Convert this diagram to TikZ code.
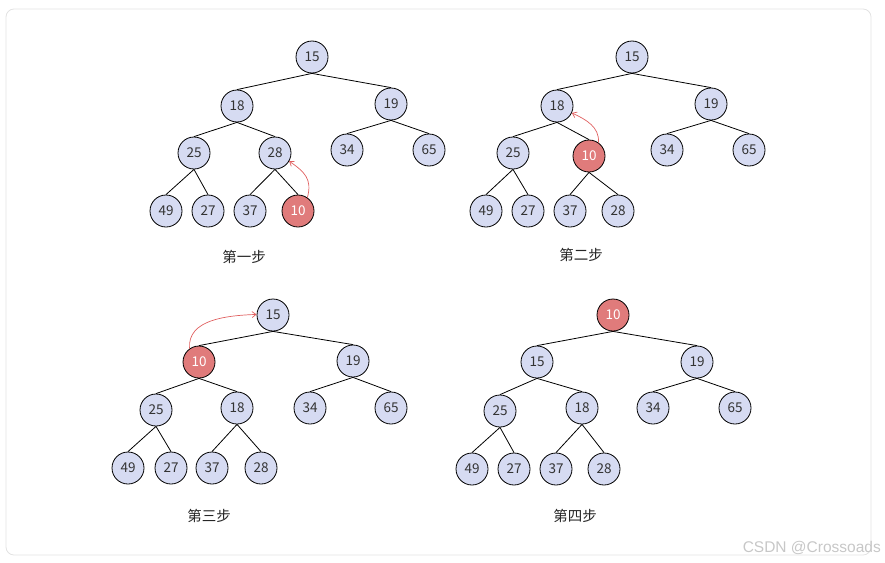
\documentclass[tikz,border=0pt]{standalone}
\usepackage{fontspec}
\setmainfont{Noto Sans CJK SC}
\newfontfamily\wmfont{Liberation Sans}
\usetikzlibrary{arrows.meta}
\definecolor{nodeblue}{HTML}{D6DBF2}
\definecolor{nodered}{HTML}{E07B7B}
\definecolor{arrred}{HTML}{E06060}
\definecolor{txt}{HTML}{333333}
\definecolor{frame}{HTML}{E2E2E2}
\tikzset{
  hn/.style={circle, draw=black, line width=0.8pt, minimum size=32pt, inner sep=0pt,
    fill=nodeblue, text=txt, font=\fontsize{13.5}{15}\selectfont},
  rn/.style={hn, fill=nodered, text=white},
  edge/.style={line width=0.8pt, black},
  mv/.style={arrred, line width=0.7pt, -{Straight Barb[length=4pt,width=6pt]}},
  steplabel/.style={font=\fontsize{14.5}{16}\selectfont, text=black!85},
}
\begin{document}
\begin{tikzpicture}[x=1pt,y=-1pt]
\useasboundingbox (0,0) rectangle (885,562);
\draw[frame, line width=0.8pt, rounded corners=8pt] (6,9) rectangle (871,555);

% ---- step 1
\node[hn] (a15) at (312,57) {15};
\node[hn] (a18) at (237,106) {18};
\node[hn] (a19) at (391,104) {19};
\node[hn] (a25) at (194,153) {25};
\node[hn] (a28) at (275,153) {28};
\node[hn] (a34) at (347,150) {34};
\node[hn] (a65) at (429,150) {65};
\node[hn] (a49) at (166,211) {49};
\node[hn] (a27) at (208,211) {27};
\node[hn] (a37) at (250,211) {37};
\node[rn] (a10) at (298,211) {10};
\foreach \p/\c in {a15/a18,a15/a19,a18/a25,a18/a28,a19/a34,a19/a65,a25/a49,a25/a27,a28/a37,a28/a10}
  \draw[edge] (\p.south) -- (\c.north);
\draw[mv] (a10.55) to[out=75,in=-35,looseness=1.2] (a28.-30);
\node[steplabel] (l1) at (244,257) {第一步};

% ---- step 2
\node[hn] (b15) at (632,57) {15};
\node[hn] (b18) at (557,106) {18};
\node[hn] (b19) at (711,104) {19};
\node[hn] (b25) at (513,153) {25};
\node[rn] (b10) at (589,156) {10};
\node[hn] (b34) at (667,150) {34};
\node[hn] (b65) at (749,150) {65};
\node[hn] (b49) at (486,211) {49};
\node[hn] (b27) at (528,211) {27};
\node[hn] (b37) at (570,211) {37};
\node[hn] (b28) at (618,211) {28};
\foreach \p/\c in {b15/b18,b15/b19,b18/b25,b18/b10,b19/b34,b19/b65,b25/b49,b25/b27,b10/b37,b10/b28}
  \draw[edge] (\p.south) -- (\c.north);
\draw[mv] (b10.55) to[out=85,in=-25] (b18.-25);
\node[steplabel] (l2) at (581,255) {第二步};

% ---- step 3
\node[hn] (c15) at (273,315) {15};
\node[rn] (c10) at (199,362) {10};
\node[hn] (c19) at (353,361) {19};
\node[hn] (c25) at (156,410) {25};
\node[hn] (c18) at (237,408) {18};
\node[hn] (c34) at (310,408) {34};
\node[hn] (c65) at (391,408) {65};
\node[hn] (c49) at (128,468) {49};
\node[hn] (c27) at (171,468) {27};
\node[hn] (c37) at (212,468) {37};
\node[hn] (c28) at (261,468) {28};
\foreach \p/\c in {c15/c10,c15/c19,c10/c25,c10/c18,c19/c34,c19/c65,c25/c49,c25/c27,c18/c37,c18/c28}
  \draw[edge] (\p.south) -- (\c.north);
\draw[mv] (c10.125) to[out=95,in=182] (c15.178);
\node[steplabel] (l3) at (209,516) {第三步};

% ---- step 4
\node[rn] (d10) at (613,315) {10};
\node[hn] (d15) at (537,362) {15};
\node[hn] (d19) at (697,362) {19};
\node[hn] (d25) at (500,411) {25};
\node[hn] (d18) at (582,408) {18};
\node[hn] (d34) at (653,408) {34};
\node[hn] (d65) at (735,408) {65};
\node[hn] (d49) at (472,469) {49};
\node[hn] (d27) at (514,469) {27};
\node[hn] (d37) at (556,469) {37};
\node[hn] (d28) at (604,469) {28};
\foreach \p/\c in {d10/d15,d10/d19,d15/d25,d15/d18,d19/d34,d19/d65,d25/d49,d25/d27,d18/d37,d18/d28}
  \draw[edge] (\p.south) -- (\c.north);
\node[steplabel] (l4) at (575,516) {第四步};

% watermark
\node[font=\wmfont\fontsize{15.5}{17}\selectfont, text=black!22, anchor=east, inner sep=0pt] (wm) at (881,548) {CSDN @Crossoads};
\end{tikzpicture}
\end{document}
